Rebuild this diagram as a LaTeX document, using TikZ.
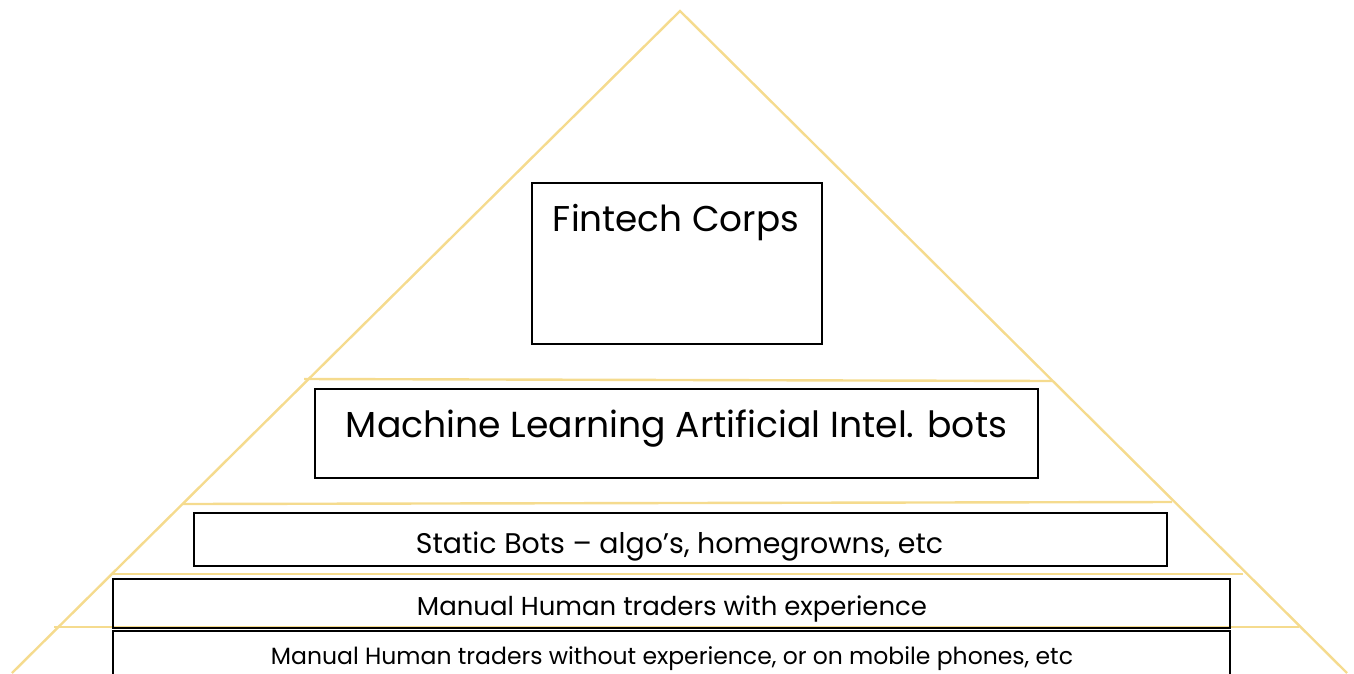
\documentclass[tikz,border=0pt]{standalone}
\usepackage{fontspec}
\setmainfont{Poppins}
\definecolor{gold}{RGB}{245,219,142}
\begin{document}
\begin{tikzpicture}[x=1pt,y=-1pt,
  box/.style={draw=black,line width=1.3pt,inner sep=0pt,fill=none},
  tier/.style={draw=gold,line width=2.4pt},
  lbl/.style={anchor=base,inner sep=0pt,text=black}]
\useasboundingbox (0,0) rectangle (1354,673);
\clip (0,0) rectangle (1354,673);
% pyramid outline
\coordinate (apex) at (680,11);
\coordinate (bl) at (12,673);
\coordinate (br) at (1347,673);
\draw[tier] (bl) -- (apex) -- (br);
% tier lines
\draw[tier] (304,379) -- (1052,381);
\draw[tier] (183,504) -- (1172,502);
\draw[tier] (113,574) -- (1243,574);
\draw[tier] (54,627) -- (1299,627);
% boxes
\node[box,minimum width=290pt,minimum height=161pt] (fin) at (677,263.5) {};
\node[box,minimum width=723pt,minimum height=89pt] (ml) at (676.5,433.5) {};
\node[box,minimum width=973pt,minimum height=53pt] (stat) at (680.5,539.5) {};
\node[box,minimum width=1117pt,minimum height=49pt] (mwith) at (671.5,603.5) {};
\node[box,minimum width=1117pt,minimum height=59pt] (mwo) at (671.5,660.5) {};
% labels
\node[lbl] (tfin) at (676,231) {\resizebox{246pt}{!}{Fintech Corps}};
\node[lbl] (tml) at (676.5,437) {\resizebox{661pt}{!}{Machine Learning Artificial Intel. bots}};
\node[lbl] (tstat) at (679.5,553) {\resizebox{527pt}{!}{Static Bots – algo’s, homegrowns, etc}};
\node[lbl] (tmwith) at (672,615) {\resizebox{510pt}{!}{Manual Human traders with experience}};
\node[lbl] (tmwo) at (672,664.5) {\resizebox{802pt}{!}{Manual Human traders without experience, or on mobile phones, etc}};
\end{tikzpicture}
\end{document}
